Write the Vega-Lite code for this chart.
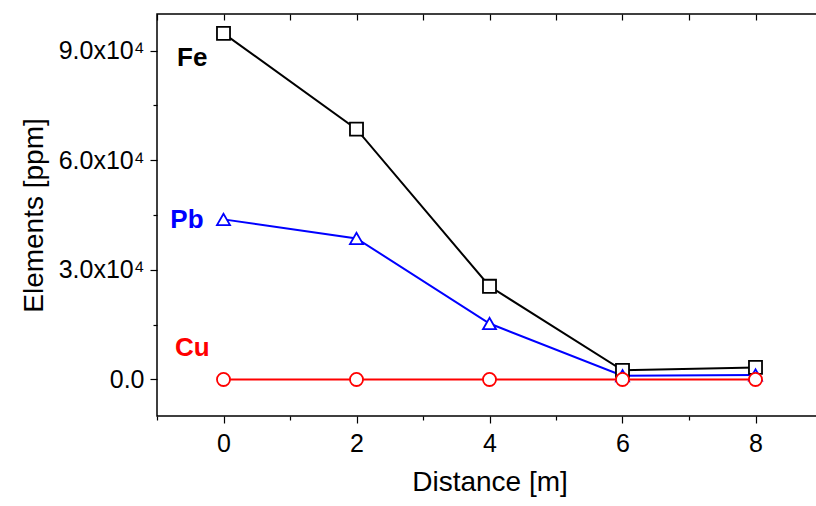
{
  "$schema": "https://vega.github.io/schema/vega-lite/v6.json",
  "width": 665,
  "height": 402,
  "autosize": "none",
  "padding": {"left": 157, "top": 14, "right": 0, "bottom": 90},
  "background": "white",
  "config": {
    "view": {"stroke": "black", "strokeWidth": 1.5},
    "font": "Liberation Sans",
    "axis": {"grid": false, "domain": false, "tickColor": "black", "tickWidth": 1.2, "labelColor": "black", "titleColor": "black", "labelFont": "Liberation Sans Narrow, Liberation Sans", "titleFont": "Liberation Sans Narrow, Liberation Sans", "titleFontWeight": "normal", "labelFontSize": 25, "titleFontSize": 28}
  },
  "data": {
    "values": [
      {"d": 0, "v": 94700, "el": "Fe"}, {"d": 2, "v": 68500, "el": "Fe"}, {"d": 4, "v": 25500, "el": "Fe"}, {"d": 6, "v": 2500, "el": "Fe"}, {"d": 8, "v": 3300, "el": "Fe"},
      {"d": 0, "v": 43800, "el": "Pb"}, {"d": 2, "v": 38600, "el": "Pb"}, {"d": 4, "v": 15300, "el": "Pb"}, {"d": 6, "v": 1000, "el": "Pb"}, {"d": 8, "v": 1200, "el": "Pb"},
      {"d": 0, "v": 0, "el": "Cu"}, {"d": 2, "v": 0, "el": "Cu"}, {"d": 4, "v": 0, "el": "Cu"}, {"d": 6, "v": 0, "el": "Cu"}, {"d": 8, "v": 0, "el": "Cu"}
    ]
  },
  "resolve": {"axis": {"x": "independent", "y": "independent"}},
  "layer": [
    {
      "mark": {"type": "line", "strokeWidth": 2},
      "encoding": {
        "x": {"field": "d", "type": "quantitative", "scale": {"domain": [-1, 9], "nice": false},
          "axis": {"orient": "bottom", "values": [0, 2, 4, 6, 8], "tickSize": 7, "labelFontSize": 25, "labelPadding": 8, "title": "Distance [m]", "titleFontSize": 28, "titlePadding": 12}},
        "y": {"field": "v", "type": "quantitative", "scale": {"domain": [-10000, 100000], "nice": false, "zero": false},
          "axis": {"orient": "left", "values": [0, 30000, 60000, 90000], "tickSize": 7, "labelFontSize": 25, "labelPadding": 6,
            "labelExpr": "datum.value == 0 ? '0.0' : format(datum.value/10000, '.1f') + 'x10⁴'",
            "title": "Elements [ppm]", "titleFontSize": 28, "titlePadding": 10}},
        "color": {"field": "el", "type": "nominal", "scale": {"domain": ["Fe", "Pb", "Cu"], "range": ["black", "#0000ff", "#ff0000"]}, "legend": null}
      }
    },
    {
      "mark": {"type": "point", "filled": true, "fill": "white", "opacity": 1, "strokeOpacity": 1, "fillOpacity": 1, "strokeWidth": 1.8, "size": 170},
      "encoding": {
        "x": {"field": "d", "type": "quantitative", "axis": {"orient": "bottom", "values": [-1, 1, 3, 5, 7], "tickSize": 4, "labels": false, "title": null}},
        "y": {"field": "v", "type": "quantitative", "axis": {"orient": "left", "values": [-15000, 15000, 45000, 75000], "tickSize": 4, "labels": false, "title": null}},
        "stroke": {"field": "el", "type": "nominal", "scale": {"domain": ["Fe", "Pb", "Cu"], "range": ["black", "#0000ff", "#ff0000"]}, "legend": null},
        "shape": {"field": "el", "type": "nominal", "scale": {"domain": ["Fe", "Pb", "Cu"], "range": ["square", "triangle-up", "circle"]}, "legend": null}
      }
    },
    {
      "data": {"values": [
        {"d": -0.47, "v": 88000, "el": "Fe"},
        {"d": -0.55, "v": 43500, "el": "Pb"},
        {"d": -0.47, "v": 8500, "el": "Cu"}
      ]},
      "mark": {"type": "text", "fontSize": 26, "fontWeight": "bold", "font": "Liberation Sans Narrow, Liberation Sans", "align": "center", "baseline": "middle"},
      "encoding": {
        "x": {"field": "d", "type": "quantitative", "axis": {"orient": "top", "values": [-1, 0, 1, 2, 3, 4, 5, 6, 7, 8, 9], "tickSize": -6, "labels": false, "title": null}},
        "y": {"field": "v", "type": "quantitative", "axis": {"orient": "right", "values": [0, 15000, 30000, 45000, 60000, 75000, 90000], "tickSize": -6, "labels": false, "title": null}},
        "text": {"field": "el"},
        "color": {"field": "el", "type": "nominal", "scale": {"domain": ["Fe", "Pb", "Cu"], "range": ["black", "#0000ff", "#ff0000"]}, "legend": null}
      }
    }
  ]
}
